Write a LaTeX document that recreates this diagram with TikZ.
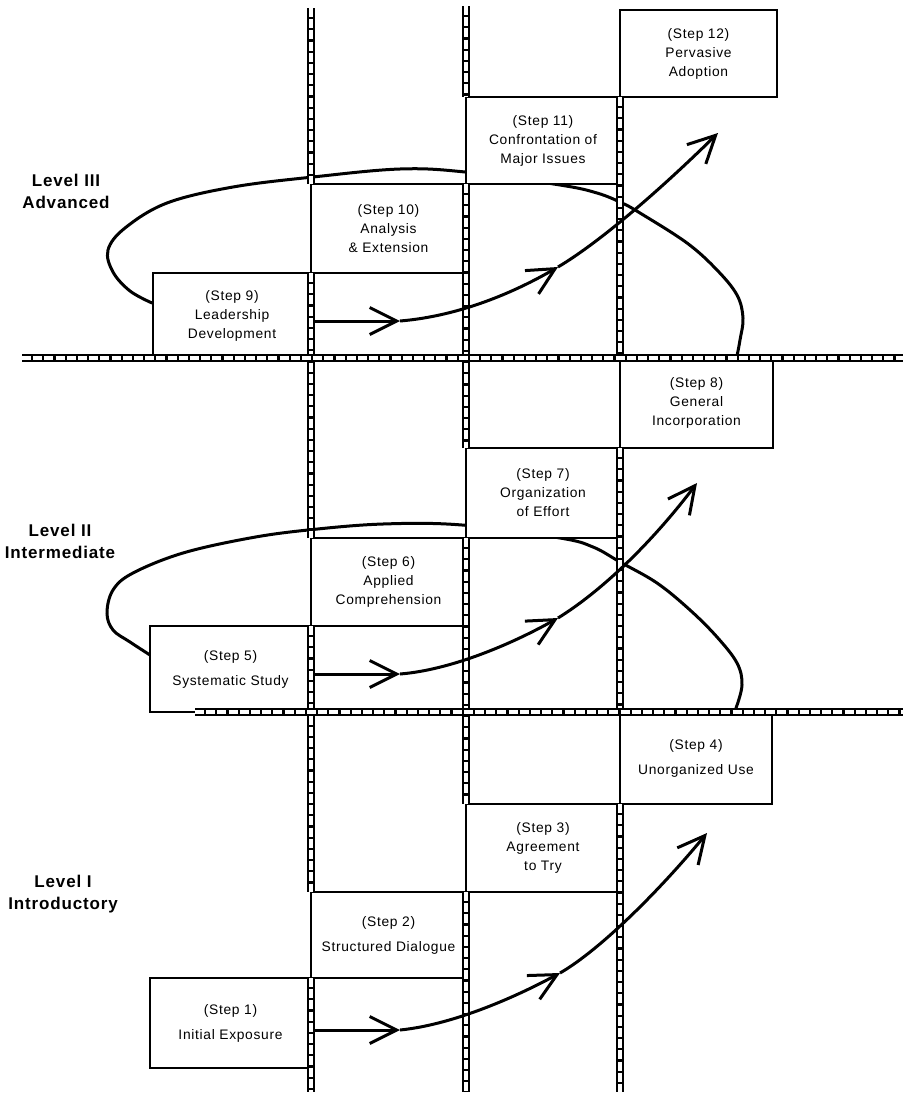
\documentclass[tikz,border=0pt]{standalone}
\usepackage{fontspec}
\setmainfont{Liberation Sans}
\newfontfamily\stepfont[LetterSpace=5]{Liberation Sans}
\newfontfamily\levelfont[LetterSpace=5]{Liberation Sans}
\usetikzlibrary{arrows.meta}
\newcommand\ropebar[2]{\draw[ropeout] #1 -- #2; \draw[ropein] #1 -- #2;}
\begin{document}
\begin{tikzpicture}[x=1pt,y=-1pt,
 stepbox/.style={draw, line width=1.4pt, fill=white, align=center, inner sep=0pt, outer sep=0pt, anchor=north west, font=\stepfont\fontsize{13.8}{19}\selectfont},
 levellabel/.style={align=center, font=\levelfont\bfseries\fontsize{17}{22}\selectfont},
 ropeout/.style={line width=7.5pt, black},
 ropein/.style={line width=3.8pt, white, dash pattern=on 9pt off 2.2pt},
 loopline/.style={line width=3pt, line cap=round},
 arrline/.style={line width=3pt, -{Straight Barb[length=27pt,width=27pt]}}]
\useasboundingbox[fill=white] (0,0) rectangle (903,1095);

% loops
\draw[loopline] plot[smooth, tension=0.6] coordinates {(152,303) (130,291) (113,272) (108,250) (125,228) (167,203) (233,187) (313,177) (400,169) (465,172) (560,185) (597,193) (622,203) (640,213) (687,243) (717,270) (737,295) (743,318) (740,340) (737,356)};
\draw[loopline] plot[smooth, tension=0.6] coordinates {(150,655) (130,642) (113,630) (107,613) (113,590) (133,573) (183,553) (250,538) (308,530) (383,524) (462,525) (560,538) (593,547) (620,562) (657,583) (690,610) (717,637) (737,663) (742,685) (736,708)};

% boxes
\node[stepbox, minimum width=157pt, minimum height=87pt] (s12) at (620,10) {(Step 12)\\Pervasive\\Adoption};
\node[stepbox, minimum width=154pt, minimum height=87pt] (s11) at (466,97) {(Step 11)\\Confrontation of\\Major Issues};
\node[stepbox, minimum width=155pt, minimum height=89pt] (s10) at (311,184) {(Step 10)\\Analysis\\\& Extension};
\node[stepbox, minimum width=158pt, minimum height=85pt] (s9) at (153,273) {(Step 9)\\Leadership\\Development};
\node[stepbox, minimum width=153pt, minimum height=90pt] (s8) at (620,358) {(Step 8)\\General\\Incorporation};
\node[stepbox, minimum width=154pt, minimum height=90pt] (s7) at (466,448) {(Step 7)\\Organization\\of Effort};
\node[stepbox, minimum width=155pt, minimum height=88pt] (s6) at (311,538) {(Step 6)\\Applied\\Comprehension};
\node[stepbox, minimum width=161pt, minimum height=86pt] (s5) at (150,626) {(Step 5)\\[6pt]Systematic Study};
\node[stepbox, minimum width=152pt, minimum height=92pt] (s4) at (620,712) {(Step 4)\\[6pt]Unorganized Use};
\node[stepbox, minimum width=154pt, minimum height=88pt] (s3) at (466,804) {(Step 3)\\Agreement\\to Try};
\node[stepbox, minimum width=155pt, minimum height=86pt] (s2) at (311,892) {(Step 2)\\[6pt]Structured Dialogue};
\node[stepbox, minimum width=161pt, minimum height=90pt] (s1) at (150,978) {(Step 1)\\[6pt]Initial Exposure};

% level labels
\node[levellabel] (l3) at (66,191) {Level III\\Advanced};
\node[levellabel] (l2) at (60,541) {Level II\\Intermediate};
\node[levellabel] (l1) at (63,894) {Level I\\Introductory};

% vertical bars
\ropebar{(311,8)}{(311,184)}
\ropebar{(311,273)}{(311,538)}
\ropebar{(311,626)}{(311,892)}
\ropebar{(311,978)}{(311,1092)}
\ropebar{(466,6)}{(466,97)}
\ropebar{(466,184)}{(466,448)}
\ropebar{(466,538)}{(466,804)}
\ropebar{(466,892)}{(466,1092)}
\ropebar{(620,97)}{(620,358)}
\ropebar{(620,448)}{(620,712)}
\ropebar{(620,804)}{(620,1092)}
% horizontal bars
\ropebar{(22,358)}{(903,358)}
\ropebar{(195,712)}{(903,712)}

% arrows level III
\coordinate (a3m) at (400,321);
\coordinate (a3n) at (558,267);
\coordinate (a3e) at (718,133);
\coordinate (a3s) at (s9.east |- a3m);
\draw[arrline] ([xshift=4pt]a3s) -- (a3m);
\draw[arrline] (a3m) .. controls (460,316) and (515,292) .. (a3n);
\draw[arrline] (a3n) .. controls (600,242) and (660,190) .. (a3e);
% arrows level II
\coordinate (a2m) at (400,674);
\coordinate (a2n) at (558,618);
\coordinate (a2e) at (697,483);
\coordinate (a2s) at (s5.east |- a2m);
\draw[arrline] ([xshift=4pt]a2s) -- (a2m);
\draw[arrline] (a2m) .. controls (450,670) and (510,645) .. (a2n);
\draw[arrline] (a2n) .. controls (600,592) and (650,545) .. (a2e);
% arrows level I
\coordinate (a1m) at (400,1030);
\coordinate (a1n) at (560,973);
\coordinate (a1e) at (707,833);
\coordinate (a1s) at (s1.east |- a1m);
\draw[arrline] ([xshift=4pt]a1s) -- (a1m);
\draw[arrline] (a1m) .. controls (450,1025) and (510,1000) .. (a1n);
\draw[arrline] (a1n) .. controls (600,950) and (660,890) .. (a1e);
\end{tikzpicture}
\end{document}
